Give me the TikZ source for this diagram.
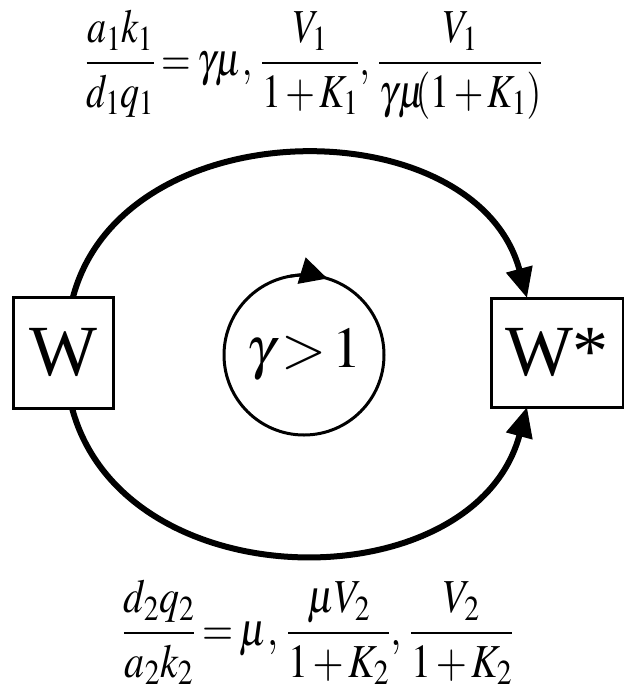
\documentclass[tikz,border=0pt]{standalone}
\usepackage{amsmath}
\usepackage{mathptmx}
\usepackage[no-math]{fontspec}
\setmainfont{Liberation Serif}
\usetikzlibrary{arrows.meta}

\begin{document}
\begin{tikzpicture}[x=1pt,y=1pt,
	box/.style={draw,line width=3pt,inner sep=0pt,outer sep=0pt,font=\fontsize{72}{80}\selectfont},
	bigarrow/.style={line width=6pt,-{Triangle[length=30pt,width=26pt]}},
	eqn/.style={anchor=base,transform shape,yscale=1.1,font=\fontsize{43}{48}\selectfont}]
	\useasboundingbox (0,0) rectangle (624,-694);
	\node[box,minimum width=100pt,minimum height=111pt] (W) at (63,-352.5) {W};
	\node[box,minimum width=132pt,minimum height=109pt] (Ws) at (557,-352.5) {W*};
	\node[draw,circle,line width=3pt,outer sep=0pt,inner sep=0pt,minimum size=160pt,font=\fontsize{58}{64}\selectfont] (loop) at (304,-355) {$\thickmuskip=2mu \gamma>1$};
	\draw[bigarrow] ([xshift=10pt]W.north) .. controls +(75:197) and +(105:197) .. ([xshift=-30pt]Ws.north); % upper path
	\draw[bigarrow] ([xshift=9pt]W.south) .. controls +(-75:202) and +(-105:202) .. ([xshift=-30pt]Ws.south); % lower path
	\draw[line width=3pt,-{Triangle[length=27pt,width=27pt]}] (loop.100) arc[start angle=100,end angle=73,radius=80pt]; % loop direction
	\node[eqn,xscale=0.886] (top) at (314,-75) {$\medmuskip=2mu \thickmuskip=3mu \dfrac{a_1k_1}{d_1q_1}=\gamma\mu,\,\dfrac{V_1}{1+K_1},\,\dfrac{V_1}{\gamma\mu\!\!(1+K_1)}$};
	\node[eqn,xscale=0.93] (bot) at (318,-645) {$\medmuskip=2mu \thickmuskip=3mu \dfrac{d_2q_2}{a_2k_2}=\mu,\,\dfrac{\mu V_2}{1+K_2},\,\dfrac{V_2}{1+K_2}$};
\end{tikzpicture}
\end{document}
